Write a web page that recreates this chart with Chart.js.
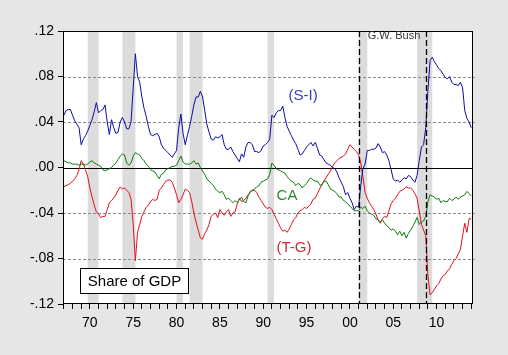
<!DOCTYPE html>
<html><head><meta charset="utf-8">
<script src="https://cdn.jsdelivr.net/npm/chart.js@4.4.0/dist/chart.umd.min.js"></script>
<style>html,body{margin:0;padding:0;background:#e6e6e6;}canvas{display:block;}</style>
</head><body>
<canvas id="c" width="508" height="355"></canvas>
<script>
// Quarterly data, first observation 1967Q1, last 2014Q1 (share of GDP)
const startYear = 1967;
const siValues = [
0.046,0.050,0.051,0.051, 0.046,0.041,0.038,0.035, 0.020,0.025,0.028,0.032, 0.037,0.042,0.049,0.057,
0.048,0.050,0.051,0.055, 0.040,0.029,0.042,0.035, 0.030,0.031,0.040,0.044, 0.040,0.034,0.034,0.040,
0.070,0.100,0.080,0.075, 0.062,0.052,0.045,0.036, 0.029,0.028,0.029,0.030, 0.027,0.020,0.017,0.015,
0.013,0.011,0.009,0.012, 0.015,0.035,0.047,0.030, 0.020,0.028,0.036,0.045, 0.055,0.062,0.062,0.067,
0.062,0.050,0.038,0.031, 0.025,0.024,0.027,0.026, 0.027,0.029,0.020,0.016, 0.016,0.018,0.014,0.011,
0.008,0.005,0.012,0.009, 0.018,0.022,0.022,0.020, 0.014,0.014,0.013,0.015, 0.019,0.020,0.022,0.025,
0.046,0.044,0.048,0.050, 0.050,0.054,0.044,0.036, 0.032,0.028,0.024,0.021, 0.016,0.011,0.012,0.015,
0.018,0.020,0.022,0.019, 0.022,0.017,0.011,0.010, 0.007,0.004,0.003,0.002, 0.000,-0.001,-0.004,-0.009,
-0.013,-0.017,-0.024,-0.022, -0.027,-0.031,-0.037,-0.034, -0.035,-0.016,-0.001,0.003, 0.015,0.015,0.016,0.016,
0.017,0.021,0.018,0.013, 0.014,0.011,0.006,-0.002, -0.010,-0.012,-0.011,-0.013, -0.011,-0.009,-0.010,-0.007,
-0.008,-0.011,-0.013,-0.007, 0.006,0.018,0.020,0.035, 0.068,0.094,0.097,0.093, 0.090,0.087,0.085,0.082,
0.079,0.078,0.080,0.075, 0.073,0.073,0.072,0.075, 0.070,0.050,0.043,0.040, 0.035
];
const caValues = [
0.006,0.005,0.004,0.004, 0.003,0.003,0.003,0.002, 0.003,0.003,0.002,0.003, 0.005,0.006,0.004,0.003,
0.002,0.001,-0.002,-0.003, -0.002,-0.001,0.000,0.002, 0.004,0.007,0.010,0.012, 0.011,0.004,0.002,0.004,
0.010,0.013,0.012,0.011, 0.008,0.006,0.003,0.001, -0.002,-0.003,-0.004,-0.007, -0.010,-0.006,-0.005,-0.002,
-0.001,0.000,0.001,0.001, 0.002,0.006,0.010,0.005, 0.003,0.003,0.003,0.004, 0.006,0.003,0.004,0.000,
-0.003,-0.006,-0.010,-0.012, -0.014,-0.016,-0.019,-0.021, -0.022,-0.021,-0.024,-0.028, -0.027,-0.029,-0.031,-0.029,
-0.031,-0.028,-0.026,-0.030, -0.031,-0.025,-0.021,-0.020, -0.019,-0.017,-0.016,-0.013, -0.012,-0.011,-0.010,-0.006,
0.004,0.002,-0.001,-0.002, -0.003,-0.004,-0.005,-0.008, -0.010,-0.012,-0.013,-0.016, -0.014,-0.015,-0.018,-0.016,
-0.014,-0.011,-0.009,-0.011, -0.012,-0.012,-0.015,-0.016, -0.012,-0.012,-0.015,-0.019, -0.020,-0.021,-0.023,-0.026,
-0.026,-0.029,-0.030,-0.032, -0.034,-0.036,-0.038,-0.038, -0.038,-0.035,-0.036,-0.034, -0.038,-0.040,-0.041,-0.042,
-0.045,-0.046,-0.048,-0.046, -0.049,-0.051,-0.053,-0.055, -0.054,-0.056,-0.059,-0.056, -0.060,-0.057,-0.062,-0.058,
-0.055,-0.052,-0.048,-0.044, -0.050,-0.048,-0.047,-0.043, -0.030,-0.024,-0.025,-0.026, -0.028,-0.027,-0.031,-0.029,
-0.030,-0.030,-0.027,-0.029, -0.028,-0.026,-0.028,-0.026, -0.025,-0.024,-0.021,-0.023, -0.025
];
const tgValues = [
-0.017,-0.016,-0.015,-0.014, -0.012,-0.010,-0.007,-0.002, 0.006,0.003,-0.002,-0.008, -0.018,-0.026,-0.033,-0.039,
-0.041,-0.044,-0.043,-0.043, -0.037,-0.031,-0.029,-0.027, -0.024,-0.020,-0.017,-0.019, -0.018,-0.020,-0.022,-0.028,
-0.050,-0.082,-0.057,-0.050, -0.043,-0.039,-0.035,-0.033, -0.030,-0.028,-0.029,-0.028, -0.020,-0.018,-0.015,-0.012,
-0.011,-0.011,-0.013,-0.018, -0.024,-0.031,-0.028,-0.024, -0.019,-0.020,-0.022,-0.030, -0.040,-0.048,-0.055,-0.062,
-0.063,-0.058,-0.055,-0.050, -0.043,-0.041,-0.040,-0.044, -0.037,-0.040,-0.042,-0.039, -0.037,-0.043,-0.040,-0.039,
-0.032,-0.027,-0.030,-0.029, -0.027,-0.024,-0.022,-0.020, -0.020,-0.022,-0.026,-0.029, -0.032,-0.035,-0.036,-0.035,
-0.037,-0.041,-0.045,-0.049, -0.053,-0.056,-0.055,-0.057, -0.054,-0.050,-0.046,-0.044, -0.040,-0.038,-0.037,-0.035,
-0.036,-0.034,-0.032,-0.028, -0.027,-0.023,-0.019,-0.015, -0.012,-0.009,-0.006,-0.003, 0.001,0.004,0.006,0.008,
0.009,0.010,0.012,0.016, 0.020,0.018,0.016,0.014, 0.011,0.004,-0.008,-0.022, -0.027,-0.031,-0.034,-0.037,
-0.041,-0.046,-0.049,-0.045, -0.043,-0.044,-0.038,-0.032, -0.029,-0.027,-0.024,-0.021, -0.020,-0.019,-0.017,-0.018,
-0.018,-0.020,-0.023,-0.027, -0.038,-0.050,-0.055,-0.060, -0.095,-0.112,-0.110,-0.107, -0.104,-0.102,-0.098,-0.095,
-0.094,-0.091,-0.089,-0.085, -0.082,-0.080,-0.076,-0.072, -0.060,-0.049,-0.057,-0.045, -0.045
];
const yTickValues = [-0.12,-0.08,-0.04,0,0.04,0.08,0.12];
const yTickLabels = ['-.12','-.08','-.04','.00','.04','.08','.12'];
const xMajorYears = [1970,1975,1980,1985,1990,1995,2000,2005,2010];
const xMajorLabels = ['70','75','80','85','90','95','00','05','10'];
const recessionStarts = [1969.75,1973.75,1980.0,1981.5,1990.5,2001.0,2007.75];
const recessionEnds   = [1971.0,1975.25,1980.75,1983.0,1991.25,2002.0,2009.5];
const bushTerm = [2001.0, 2008.8];

const toPoints = arr => arr.map((v,i)=>({x: startYear + i/4, y: v}));
const minorYears = [];
for (let yr = 1967; yr <= 2014; yr++) minorYears.push(yr);

const FONT = '"Liberation Sans", Arial, sans-serif';

const decor = {
  id: 'decor',
  beforeDraw(chart){
    const {ctx, chartArea:a, scales:{x,y}} = chart;
    ctx.save();
    ctx.fillStyle = '#e6e6e6'; ctx.fillRect(0,0,chart.width,chart.height);
    ctx.fillStyle = '#ffffff'; ctx.fillRect(a.left,a.top,a.right-a.left,a.bottom-a.top);
    ctx.fillStyle = '#dcdcdc';
    recessionStarts.forEach((s,k)=>{
      const x0 = x.getPixelForValue(s), x1 = x.getPixelForValue(recessionEnds[k]);
      ctx.fillRect(x0, a.top, x1-x0, a.bottom-a.top);
    });
    ctx.lineWidth = 1;
    ctx.strokeStyle = '#8a8a8a'; ctx.setLineDash([3,2]);
    yTickValues.forEach(v=>{
      if (v === 0 || Math.abs(v) >= 0.119) return;
      const py = Math.round(y.getPixelForValue(v)) + 0.5;
      ctx.beginPath(); ctx.moveTo(a.left, py); ctx.lineTo(a.right+2, py); ctx.stroke();
    });
    ctx.setLineDash([]); ctx.strokeStyle = '#000';
    const p0 = Math.round(y.getPixelForValue(0)) + 0.5;
    ctx.beginPath(); ctx.moveTo(a.left, p0); ctx.lineTo(a.right, p0); ctx.stroke();
    ctx.restore();
  },
  afterDatasetsDraw(chart){
    const {ctx, chartArea:a, scales:{x,y}} = chart;
    ctx.save();
    ctx.strokeStyle = '#000'; ctx.lineWidth = 1.3; ctx.setLineDash([6,3]);
    bushTerm.forEach(t=>{
      const px = Math.round(x.getPixelForValue(t)) + 0.5;
      ctx.beginPath(); ctx.moveTo(px, a.top); ctx.lineTo(px, a.bottom); ctx.stroke();
    });
    ctx.setLineDash([]); ctx.lineWidth = 1;
    ctx.strokeRect(Math.round(a.left)+0.5, Math.round(a.top)+0.5, Math.round(a.right-a.left)-1, Math.round(a.bottom-a.top)-1);
    // series labels
    ctx.textAlign = 'center'; ctx.textBaseline = 'middle';
    ctx.font = '15px ' + FONT;
    ctx.fillStyle = '#3a3ac4'; ctx.fillText('(S-I)', x.getPixelForValue(1994.6), y.getPixelForValue(0.0627));
    ctx.fillStyle = '#2a8a2a'; ctx.fillText('CA', x.getPixelForValue(1992.74), y.getPixelForValue(-0.0247));
    ctx.fillStyle = '#d22a34'; ctx.fillText('(T-G)', x.getPixelForValue(1993.55), y.getPixelForValue(-0.0706));
    ctx.font = '11px ' + FONT;
    ctx.fillStyle = '#333'; ctx.fillText('G.W. Bush', x.getPixelForValue(2005.09), y.getPixelForValue(0.1156));
    // Share of GDP box
    const bx0 = Math.round(x.getPixelForValue(1968.86))+0.5, bx1 = Math.round(x.getPixelForValue(1981.32))+0.5;
    const by0 = Math.round(y.getPixelForValue(-0.0882))+0.5, by1 = Math.round(y.getPixelForValue(-0.1103))+0.5;
    ctx.fillStyle = '#fff'; ctx.fillRect(bx0, by0, bx1-bx0, by1-by0);
    ctx.strokeStyle = '#000'; ctx.strokeRect(bx0, by0, bx1-bx0, by1-by0);
    ctx.font = '15px ' + FONT; ctx.fillStyle = '#000';
    ctx.fillText('Share of GDP', (bx0+bx1)/2, (by0+by1)/2 + 1);
    ctx.restore();
  }
};

new Chart(document.getElementById('c'), {
  type: 'line',
  data: {
    datasets: [
      {label:'(S-I)', data: toPoints(siValues), borderColor:'#0c0ca6', borderWidth:1, pointRadius:0, tension:0},
      {label:'CA', data: toPoints(caValues), borderColor:'#0b7a0b', borderWidth:1, pointRadius:0, tension:0},
      {label:'(T-G)', data: toPoints(tgValues), borderColor:'#e0101e', borderWidth:1, pointRadius:0, tension:0}
    ]
  },
  options: {
    responsive: false, animation: false, devicePixelRatio: 1,
    layout: {padding: {left:0, right:35, top:31, bottom:0}},
    plugins: {legend:{display:false}, tooltip:{enabled:false}},
    scales: {
      x: {
        type:'linear', min:1966.9, max:2014.2,
        afterBuildTicks: s => { s.ticks = minorYears.map(v=>({value:v})); },
        afterFit: s => { s.height = 51; },
        grid: {drawOnChartArea:false, drawTicks:true, tickLength:5, tickColor:'#000', tickWidth:1},
        border: {display:false},
        ticks: {autoSkip:false, maxRotation:0, minRotation:0, padding:6, color:'#000',
          font:{family:FONT, size:14},
          callback: v => { const k = xMajorYears.indexOf(Math.round(v)); return k >= 0 ? xMajorLabels[k] : ''; }}
      },
      y: {
        min:-0.12, max:0.12,
        afterBuildTicks: s => { s.ticks = yTickValues.map(v=>({value:v})); },
        afterFit: s => { s.width = 63; },
        grid: {drawOnChartArea:false, drawTicks:true, tickLength:5, tickColor:'#000'},
        border: {display:false},
        ticks: {padding:4, color:'#000', font:{family:FONT, size:14},
          callback: v => { let k = 0, best = 1; yTickValues.forEach((t,i)=>{ if (Math.abs(t-v) < best) { best = Math.abs(t-v); k = i; } }); return yTickLabels[k]; }}
      }
    }
  },
  plugins: [decor]
});
</script>
</body></html>
